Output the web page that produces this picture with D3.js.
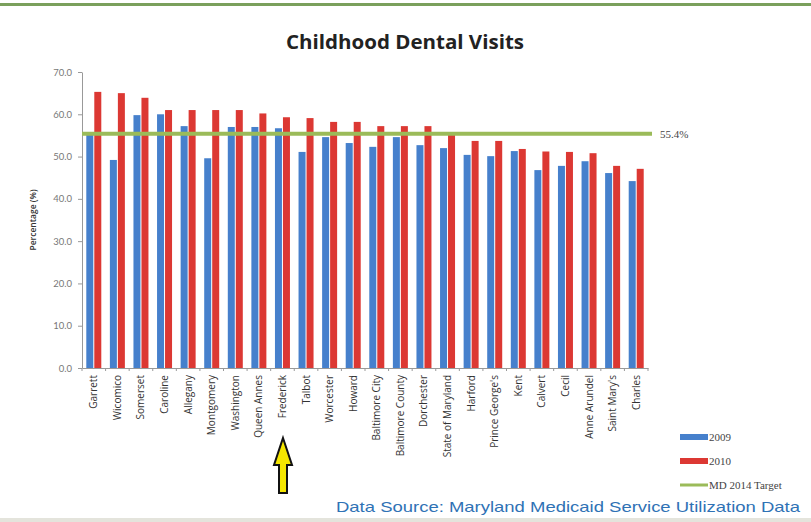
<!DOCTYPE html>
<html><head><meta charset="utf-8">
<script src="https://cdn.jsdelivr.net/npm/d3@7"></script>
<style>body{margin:0;background:#fff}svg{display:block}</style>
</head><body>
<svg id="c" width="811" height="522"></svg>
<script>
const categories = ["Garrett","Wicomico","Somerset","Caroline","Allegany","Montgomery","Washington","Queen Annes","Frederick","Talbot","Worcester","Howard","Baltimore City","Baltimore County","Dorchester","State of Maryland","Harford","Prince George's","Kent","Calvert","Cecil","Anne Arundel","Saint Mary's","Charles"];
const v2009 = [55.2,49.2,59.8,60.0,57.2,49.6,57.0,57.0,56.7,51.1,54.6,53.2,52.3,54.6,52.7,52.0,50.4,50.1,51.3,46.8,47.8,48.9,46.1,44.2];
const v2010 = [65.3,65.0,63.9,61.0,61.0,61.0,61.0,60.2,59.3,59.1,58.2,58.2,57.2,57.2,57.2,55.1,53.7,53.7,51.8,51.2,51.1,50.8,47.8,47.1];
const target = 55.4;
const yTicks = [0,10,20,30,40,50,60,70];
const seriesNames = ["2009","2010"];
const targetName = "MD 2014 Target";

(function(){
const svg = d3.select("#c");
const W=811,H=522;
const mLeft=82,mRight=648,mTop=72,mBottom=368;
const blue="#4680cc", red="#dc3833", green="#9bbb59";

svg.append("rect").attr("x",0).attr("y",0).attr("width",W).attr("height",H).attr("fill","#fff");
svg.append("line").attr("x1",0).attr("x2",W).attr("y1",4.5).attr("y2",4.5).attr("stroke","#7aa05c").attr("stroke-width",3);
svg.append("rect").attr("x",0).attr("y",518).attr("width",W).attr("height",4).attr("fill","#e4e4dc");

const x = d3.scaleBand().domain(categories).range([mLeft,mRight]).paddingInner(0).paddingOuter(0);
const y = d3.scaleLinear().domain([0,70]).range([mBottom,mTop]);
const bw = 7;

svg.append("text").attr("x",405).attr("y",49).attr("text-anchor","middle")
  .attr("font-family","Open Sans, sans-serif").attr("font-weight","bold").attr("font-size",20)
  .attr("textLength",238).attr("lengthAdjust","spacingAndGlyphs")
  .attr("fill","#222").text("Childhood Dental Visits");

const ya = svg.append("g").attr("transform",`translate(${mLeft},0)`)
  .call(d3.axisLeft(y).tickValues(yTicks).tickFormat(d3.format(".1f")).tickSize(4).tickSizeOuter(0));
ya.select(".domain").attr("stroke","#999");
ya.selectAll(".tick line").attr("stroke","#999");
ya.selectAll("text").attr("font-family","Lato, sans-serif").attr("font-size",9.5).attr("fill","#777").attr("x",-10);

svg.append("text").attr("transform","translate(36,220) rotate(-90)").attr("text-anchor","middle")
  .attr("font-family","Open Sans, sans-serif").attr("font-size",8.5).attr("font-weight","600").attr("fill","#333")
  .text("Percentage (%)");

const xa = svg.append("g").attr("transform",`translate(0,${mBottom})`)
  .call(d3.axisBottom(x).tickSize(0).tickSizeOuter(0).tickFormat(()=>""));
xa.select(".domain").attr("stroke","#999");
xa.selectAll(".tick").remove();
svg.append("g").selectAll("line").data(d3.range(categories.length+1)).join("line")
  .attr("x1",i=>mLeft+i*x.step()).attr("x2",i=>mLeft+i*x.step())
  .attr("y1",mBottom).attr("y2",mBottom+3).attr("stroke","#999");

const g = svg.append("g");
g.selectAll(".b09").data(categories).join("rect")
  .attr("x",d=>x(d)+x.bandwidth()/2-bw-0.5).attr("width",bw)
  .attr("y",(d,i)=>y(v2009[i])).attr("height",(d,i)=>y(0)-y(v2009[i])).attr("fill",blue);
g.selectAll(".b10").data(categories).join("rect")
  .attr("x",d=>x(d)+x.bandwidth()/2+0.5).attr("width",bw)
  .attr("y",(d,i)=>y(v2010[i])).attr("height",(d,i)=>y(0)-y(v2010[i])).attr("fill",red);

svg.append("line").attr("x1",mLeft).attr("x2",652).attr("y1",y(target)).attr("y2",y(target))
  .attr("stroke",green).attr("stroke-width",4);
svg.append("text").attr("x",660).attr("y",y(target)+4).attr("font-family","Liberation Serif, serif")
  .attr("font-size",11).attr("fill","#444").text(target.toFixed(1)+"%");

svg.append("g").selectAll("text").data(categories).join("text")
  .attr("transform",d=>`translate(${x(d)+x.bandwidth()/2+3.5},${mBottom+7}) rotate(-90)`)
  .attr("text-anchor","end").attr("font-family","Open Sans, sans-serif").attr("font-size",10)
  .attr("fill","#333").text(d=>d);

const lg = svg.append("g");
const items=[{n:seriesNames[0],c:blue,t:"rect",y:437},{n:seriesNames[1],c:red,t:"rect",y:461},{n:targetName,c:green,t:"line",y:485}];
items.forEach(it=>{
  if(it.t==="rect") lg.append("rect").attr("x",680).attr("y",it.y-3).attr("width",28).attr("height",6).attr("fill",it.c);
  else lg.append("line").attr("x1",680).attr("x2",708).attr("y1",it.y).attr("y2",it.y).attr("stroke",it.c).attr("stroke-width",3);
  lg.append("text").attr("x",709).attr("y",it.y+4).attr("font-family","Liberation Serif, serif").attr("font-size",11)
    .attr("fill","#444").text(it.n);
});

const ax=283;
svg.append("path").attr("d",`M${ax},438 L${ax+9},465 L${ax+4},465 L${ax+4},493 L${ax-4},493 L${ax-4},465 L${ax-9},465 Z`)
  .attr("fill","#f5e600").attr("stroke","#111").attr("stroke-width",2).attr("stroke-linejoin","miter");

svg.append("text").attr("x",336).attr("y",512).attr("font-family","Liberation Sans, Arial, sans-serif")
  .attr("font-size",15).attr("fill","#2f72b5").attr("textLength",464).attr("lengthAdjust","spacingAndGlyphs")
  .text("Data Source:  Maryland Medicaid Service Utilization Data");
})();
</script>
</body></html>
